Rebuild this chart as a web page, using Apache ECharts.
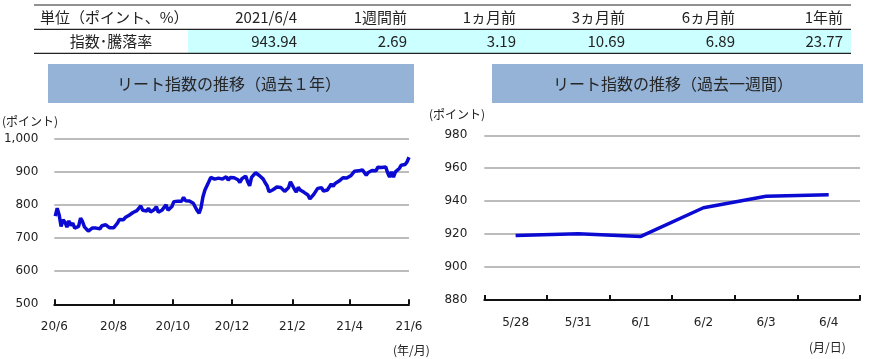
<!DOCTYPE html>
<html>
<head>
<meta charset="utf-8">
<script src="https://cdn.jsdelivr.net/npm/echarts@6/dist/echarts.min.js"></script>
<style>
html,body{margin:0;padding:0;background:#fff;}
#c{width:871px;height:359px;}
</style>
</head>
<body>
<div id="c"></div>
<script>
// ---- Table data ----
const tableCorner = '単位（ポイント、%）';
const tableRowLabel = '指数･騰落率';
const tableHeaders = ['2021/6/4', '1週間前', '1ヵ月前', '3ヵ月前', '6ヵ月前', '1年前'];
const tableValues = ['943.94', '2.69', '3.19', '10.69', '6.89', '23.77'];

// ---- Left chart: past 1 year (one reading every 2 calendar days from startDate) ----
const yearTitle = 'リート指数の推移（過去１年）';
const yearStartDate = '2020-06-05';
const yearStepDays = 2;
const yearValues = [
  766, 790, 770, 735, 755, 748, 733, 752, 738, 745,
  730, 731, 735, 760, 750, 734, 738, 721, 726, 730,
  727, 730, 734, 728, 737, 732, 740, 737, 731, 725,
  731, 735, 745, 756, 758, 755, 762, 763, 769, 768,
  777, 775, 783, 784, 797, 784, 788, 782, 790, 779,
  777, 786, 795, 778, 774, 785, 791, 800, 784,
  783, 795, 810, 812, 811, 815, 811, 823, 813, 810,
  812, 808, 805, 804, 783, 775, 792, 825, 845, 851,
  870, 883, 877, 878, 875, 881, 877, 878, 881, 885,
  875, 883, 882, 882, 887, 876, 868, 879, 884, 887,
  870, 858, 883, 889, 897, 898, 889, 893, 878, 867,
  858, 840, 845, 846, 848, 854, 857, 853, 847, 841,
  845, 852,
  870, 868, 848, 839, 853, 845, 845, 838, 843, 830,
  818, 825, 832, 836, 850, 846, 852, 842, 837, 845,
  851, 863, 856, 865, 870, 872, 873, 882, 876, 881,
  879, 888, 893, 902, 898, 903, 902, 906, 903, 890,
  898, 904, 904, 905, 903, 914, 911, 913, 914, 915,
  897, 884, 900, 884, 900, 897, 910, 920, 918, 922,
  930, 943.94
];
const yearAxisMin = '2020-06-04';
const yearAxisMax = '2021-06-04';
const yearTickDates = ['2020-06-04', '2020-08-04', '2020-10-04', '2020-12-04', '2021-02-04', '2021-04-04', '2021-06-04'];
const yearTickLabels = ['20/6', '20/8', '20/10', '20/12', '21/2', '21/4', '21/6'];
const yearYMin = 500, yearYMax = 1000, yearYStep = 100;

// ---- Right chart: past week ----
const weekTitle = 'リート指数の推移（過去一週間）';
const weekLabels = ['5/28', '5/31', '6/1', '6/2', '6/3', '6/4'];
const weekValues = [919.20, 920.2, 918.6, 936.0, 943.0, 943.94];
const weekYMin = 880, weekYMax = 980, weekYStep = 20;

const DAY = 86400000;
function parseD(s) { const p = s.split('-').map(Number); return Date.UTC(p[0], p[1] - 1, p[2]); }
const axisStart = parseD(yearAxisMin);
const dayOf = s => Math.round((parseD(s) - axisStart) / DAY);
const firstDay = dayOf(yearStartDate);
const yearData = yearValues.map((v, i) => [firstDay + i * yearStepDays, v]);
const tickDays = yearTickDates.map(dayOf);
const maxDay = dayOf(yearAxisMax);

const CJK = '"Noto Sans CJK JP", "Noto Sans", sans-serif';
const NUM = '"DejaVu Sans", sans-serif';
const lineBlue = '#0a0ad2';
const gridGray = '#a6a6a6';
const axisBlack = '#111111';

const chart = echarts.init(document.getElementById('c'));

// table graphics
const colRight = [297, 407, 516, 625, 735, 843];
const graphics = [];
graphics.push({ type: 'rect', shape: { x: 188, y: 29.5, width: 663, height: 24 }, style: { fill: '#ccffff' }, silent: true });
[5, 29.3, 53.3].forEach(y => graphics.push({ type: 'line', shape: { x1: 34, y1: y, x2: 851, y2: y }, style: { stroke: '#222', lineWidth: 1.2 }, silent: true }));
graphics.push({ type: 'text', x: 40, y: 17.5, style: { text: tableCorner, font: '15px ' + CJK, fill: '#222', textAlign: 'left', textVerticalAlign: 'middle' } });
graphics.push({ type: 'text', x: 111, y: 41.5, style: { text: tableRowLabel, font: '15px ' + CJK, fill: '#222', textAlign: 'center', textVerticalAlign: 'middle' } });
tableHeaders.forEach((h, i) => graphics.push({ type: 'text', x: colRight[i], y: 17.5, style: { text: h, font: '15px ' + CJK, fill: '#222', textAlign: 'right', textVerticalAlign: 'middle' } }));
tableValues.forEach((h, i) => graphics.push({ type: 'text', x: colRight[i], y: 41.5, style: { text: h, font: '15px ' + CJK, fill: '#222', textAlign: 'right', textVerticalAlign: 'middle' } }));
// title boxes
graphics.push({ type: 'rect', shape: { x: 48, y: 64, width: 366, height: 39 }, style: { fill: '#95b3d7' }, silent: true });
graphics.push({ type: 'text', x: 229, y: 84, style: { text: yearTitle, font: '16px ' + CJK, fill: '#262626', textAlign: 'center', textVerticalAlign: 'middle' } });
graphics.push({ type: 'rect', shape: { x: 492, y: 64, width: 371, height: 39 }, style: { fill: '#95b3d7' }, silent: true });
graphics.push({ type: 'text', x: 673, y: 84, style: { text: weekTitle, font: '16px ' + CJK, fill: '#262626', textAlign: 'center', textVerticalAlign: 'middle' } });
// axis unit labels
graphics.push({ type: 'text', x: 2, y: 121.5, style: { text: '(ポイント)', font: '12px ' + CJK, fill: '#222', textAlign: 'left', textVerticalAlign: 'middle' } });
graphics.push({ type: 'text', x: 393, y: 350, style: { text: '(年/月)', font: '12px ' + CJK, fill: '#222', textAlign: 'left', textVerticalAlign: 'middle' } });
graphics.push({ type: 'text', x: 429, y: 114, style: { text: '(ポイント)', font: '12px ' + CJK, fill: '#222', textAlign: 'left', textVerticalAlign: 'middle' } });
graphics.push({ type: 'text', x: 809, y: 347, style: { text: '(月/日)', font: '12px ' + CJK, fill: '#222', textAlign: 'left', textVerticalAlign: 'middle' } });

const axisLabelStyle = { fontFamily: NUM, fontSize: 12, color: '#222' };

chart.setOption({
  animation: false,
  backgroundColor: '#fff',
  graphic: graphics,
  grid: [
    { show: false, left: 54.3, right: 871 - 409, top: 138.7, bottom: 359 - 304.3 },
    { show: false, left: 484.3, right: 871 - 860, top: 135.3, bottom: 359 - 300 }
  ],
  xAxis: [
    {
      type: 'value', gridIndex: 0, min: 0, max: maxDay,
      axisLine: { lineStyle: { color: axisBlack, width: 2 } },
      axisTick: { show: true, inside: true, length: 5, lineStyle: { color: axisBlack, width: 2 }, customValues: tickDays },
      axisLabel: Object.assign({}, axisLabelStyle, {
        margin: 17, customValues: tickDays, hideOverlap: false, showMinLabel: true, showMaxLabel: true,
        formatter: function (v) { const i = tickDays.indexOf(v); return i >= 0 ? yearTickLabels[i] : ''; }
      }),
      splitLine: { show: false },
      minorSplitLine: { show: false }
    },
    {
      type: 'category', gridIndex: 1, data: weekLabels, boundaryGap: true,
      axisLine: { lineStyle: { color: axisBlack, width: 2 } },
      axisTick: { show: true, inside: true, length: 5, lineStyle: { color: axisBlack, width: 2 } },
      axisLabel: Object.assign({}, axisLabelStyle, { margin: 17, interval: 0 }),
      splitLine: { show: false },
      splitArea: { show: false }
    }
  ],
  yAxis: [
    {
      type: 'value', gridIndex: 0, min: yearYMin, max: yearYMax, interval: yearYStep,
      axisLine: { show: false }, axisTick: { show: false },
      axisLabel: Object.assign({}, axisLabelStyle, { margin: 16, formatter: v => v.toLocaleString('en-US') }),
      splitLine: { lineStyle: { color: gridGray, width: 1.5 } }
    },
    {
      type: 'value', gridIndex: 1, min: weekYMin, max: weekYMax, interval: weekYStep,
      axisLine: { show: false }, axisTick: { show: false },
      axisLabel: Object.assign({}, axisLabelStyle, { margin: 17 }),
      splitLine: { lineStyle: { color: gridGray, width: 1.5 } }
    }
  ],
  series: [
    {
      type: 'line', xAxisIndex: 0, yAxisIndex: 0, data: yearData, showSymbol: false,
      lineStyle: { color: lineBlue, width: 3.5 }, itemStyle: { color: lineBlue }
    },
    {
      type: 'line', xAxisIndex: 1, yAxisIndex: 1, data: weekValues, showSymbol: false,
      lineStyle: { color: lineBlue, width: 3.5 }, itemStyle: { color: lineBlue }
    }
  ]
});
</script>
</body>
</html>
